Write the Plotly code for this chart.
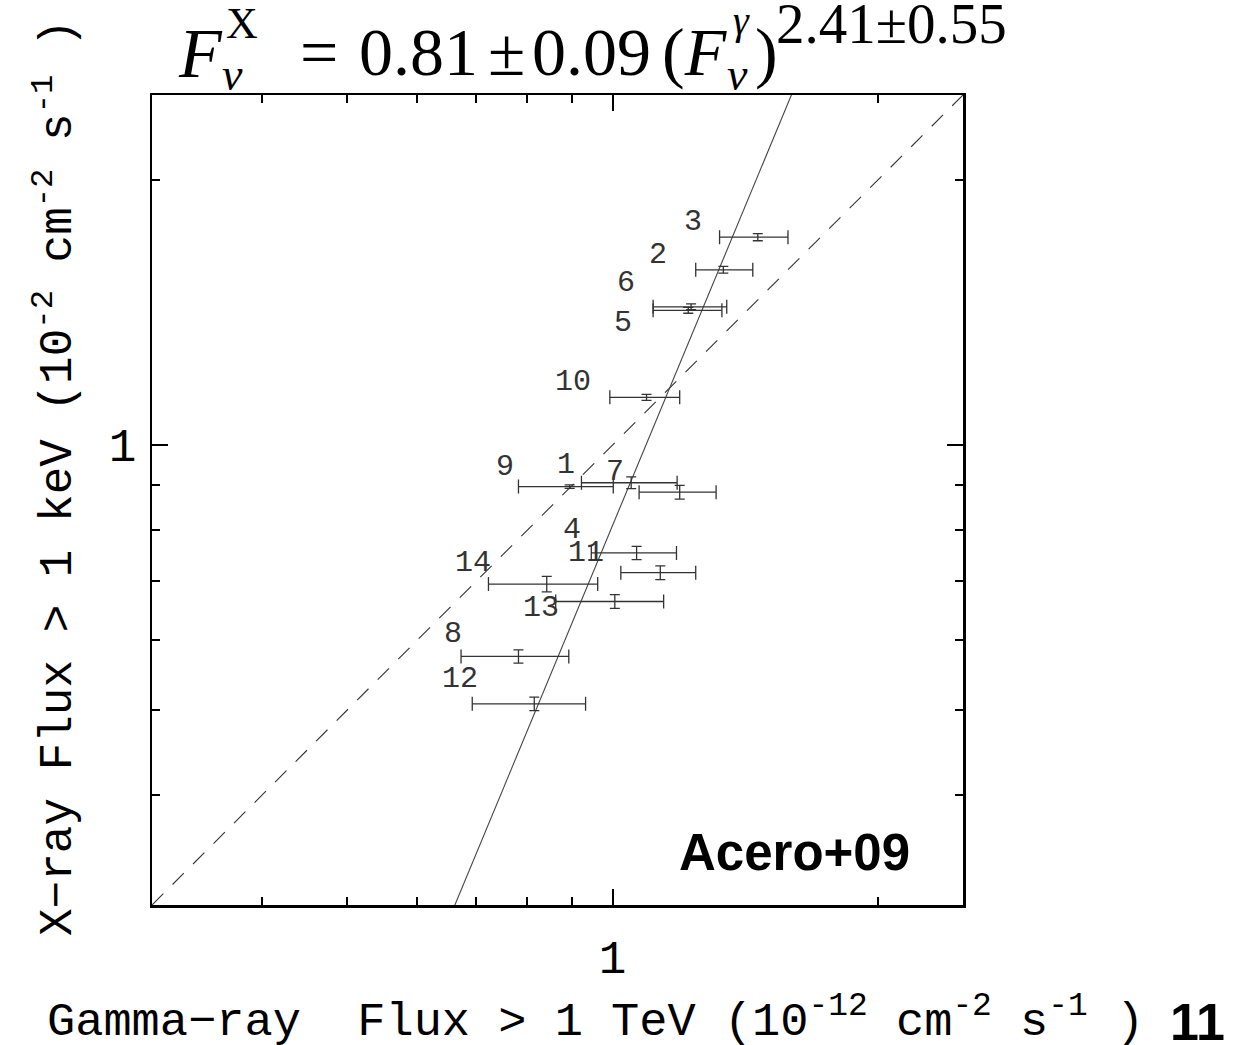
import math
import plotly.graph_objects as go

# ---------------- data ----------------
source_ids = ["1", "2", "3", "4", "5", "6", "7", "8", "9", "10", "11", "12", "13", "14"]
gamma_flux = [1.050, 1.336, 1.462, 1.065, 1.219, 1.228, 1.192, 0.782, 0.894, 1.093, 1.133, 0.815, 1.006, 0.842]
gamma_low = [0.922, 1.243, 1.323, 0.946, 1.112, 1.112, 1.072, 0.673, 0.782, 0.993, 1.022, 0.693, 0.862, 0.723]
gamma_high = [1.184, 1.443, 1.582, 1.182, 1.331, 1.348, 1.311, 0.892, 1.002, 1.192, 1.243, 0.932, 1.143, 0.962]
xray_flux = [0.906, 1.582, 1.723, 0.754, 1.423, 1.436, 0.884, 0.575, 0.897, 1.133, 0.716, 0.508, 0.664, 0.695]
xray_err = [0.014, 0.014, 0.016, 0.013, 0.011, 0.011, 0.016, 0.010, 0.004, 0.009, 0.013, 0.009, 0.012, 0.014]

fit_norm = 0.81
fit_index = 2.41
axis_limits = [0.3, 2.5]
major_ticks = [1]
minor_ticks = [0.4, 0.5, 0.6, 0.7, 0.8, 0.9, 2]

# label vertical offsets (px, up positive)
label_yshift = [18, 15, 15, 23, -13, 24, 20, 22, 20, 15, 20, 25, -7, 21]

# ---------------- layout geometry ----------------
W, H = 1255, 1045
ML, MR, MT, MB = 152, 292, 95, 140
PW, PH = W - ML - MR, H - MT - MB

def px(xp):
    return (xp - ML) / PW

def py(yp):
    return (H - MB - yp) / PH

LABEL_FONT = "Liberation Mono, DejaVu Sans Mono, monospace"
SERIF = "Liberation Serif, Times New Roman, serif"
SANS = "Liberation Sans, Arial, sans-serif"

fig = go.Figure()

# 1:1 dashed line
fig.add_trace(go.Scatter(
    x=axis_limits, y=axis_limits, mode="lines",
    line=dict(color="#333333", width=1.1, dash="16px,13px"),
    hoverinfo="skip", showlegend=False))

# fitted power law
fit_x = axis_limits
fit_y = [fit_norm * v ** fit_index for v in fit_x]
fig.add_trace(go.Scatter(
    x=fit_x, y=fit_y, mode="lines",
    line=dict(color="#444444", width=1.1),
    hoverinfo="skip", showlegend=False))

# data points with error bars
fig.add_trace(go.Scatter(
    x=gamma_flux, y=xray_flux, mode="markers",
    marker=dict(size=1, color="rgba(0,0,0,0)"),
    error_x=dict(type="data", symmetric=False,
                 array=[h - c for h, c in zip(gamma_high, gamma_flux)],
                 arrayminus=[c - l for c, l in zip(gamma_flux, gamma_low)],
                 color="#333333", thickness=1.3, width=7),
    error_y=dict(type="data", array=xray_err, color="#333333", thickness=1.3, width=5),
    hoverinfo="skip", showlegend=False))

annotations = []
for sid, gx, xy, ys in zip(source_ids, gamma_flux, xray_flux, label_yshift):
    annotations.append(dict(
        x=math.log10(gx), y=math.log10(xy), xref="x", yref="y",
        text=sid, showarrow=False, xanchor="right", yanchor="middle",
        xshift=-54, yshift=ys,
        font=dict(family=LABEL_FONT, size=30, color="#333333")))

# title pieces (stacked sub/superscripts)
title_parts = [
    ("<i>F</i>", 176, 53, 70),
    ("X", 224, 23, 44),
    ("<i>ν</i>", 220, 75, 46),
    ("=", 298, 52, 68),
    ("0.81", 357, 52, 68),
    ("±", 486, 52, 68),
    ("0.09", 530, 52, 68),
    ("(<i>F</i>", 660, 52, 68),
    ("<i>γ</i>", 731, 21, 40),
    ("<i>ν</i>", 725, 75, 46),
    (")", 753, 52, 68),
    ("2.41±0.55", 774, 23, 57),
]
for txt, xl, yc, fs in title_parts:
    annotations.append(dict(
        x=px(xl), y=py(yc), xref="paper", yref="paper", text=txt,
        showarrow=False, xanchor="left", yanchor="middle",
        font=dict(family=SERIF, size=fs, color="black")))

# axis titles
annotations.append(dict(
    x=px(595), y=py(1018), xref="paper", yref="paper",
    text="Gamma−ray\u00a0 Flux > 1 TeV (10<sup>-12</sup> cm<sup>-2</sup> s<sup>-1</sup> )",
    showarrow=False, xanchor="center", yanchor="middle",
    font=dict(family=LABEL_FONT, size=47, color="black")))
annotations.append(dict(
    x=px(55), y=py(478), xref="paper", yref="paper", textangle=-90,
    text="X−ray Flux > 1 keV (10<sup>-2</sup> cm<sup>-2</sup> s<sup>-1</sup> )",
    showarrow=False, xanchor="center", yanchor="middle",
    font=dict(family=LABEL_FONT, size=46, color="black")))

# panel labels
annotations.append(dict(
    x=px(677), y=py(852), xref="paper", yref="paper", text="<b>Acero+09</b>",
    showarrow=False, xanchor="left", yanchor="middle",
    font=dict(family=SANS, size=51, color="black")))
annotations.append(dict(
    x=px(1197), y=py(1022), xref="paper", yref="paper", text="<b>11</b>",
    showarrow=False, xanchor="center", yanchor="middle",
    font=dict(family=SANS, size=52, color="black")))

axis_common = dict(
    type="log",
    range=[math.log10(axis_limits[0]), math.log10(axis_limits[1])],
    showgrid=False, zeroline=False,
    showline=True, linecolor="black", linewidth=2.5, mirror="allticks",
    ticks="inside", ticklen=16, tickwidth=2, tickcolor="black",
    tickvals=major_ticks, ticktext=[str(v) for v in major_ticks],
    tickfont=dict(family=LABEL_FONT, size=46, color="black"),
    minor=dict(tickvals=minor_ticks, ticks="inside", ticklen=8, tickwidth=2,
               tickcolor="black", showgrid=False),
)

fig.update_layout(
    width=W, height=H,
    margin=dict(l=ML, r=MR, t=MT, b=MB, pad=0),
    paper_bgcolor="white", plot_bgcolor="white",
    xaxis=dict(**axis_common, ticklabelstandoff=10),
    yaxis=dict(**axis_common, ticklabelstandoff=4),
    annotations=annotations,
    showlegend=False,
)

fig.write_html("out.html",
               config={"displayModeBar": False, "staticPlot": True},
               post_script="document.body.style.margin='0';document.body.style.overflow='hidden';")
